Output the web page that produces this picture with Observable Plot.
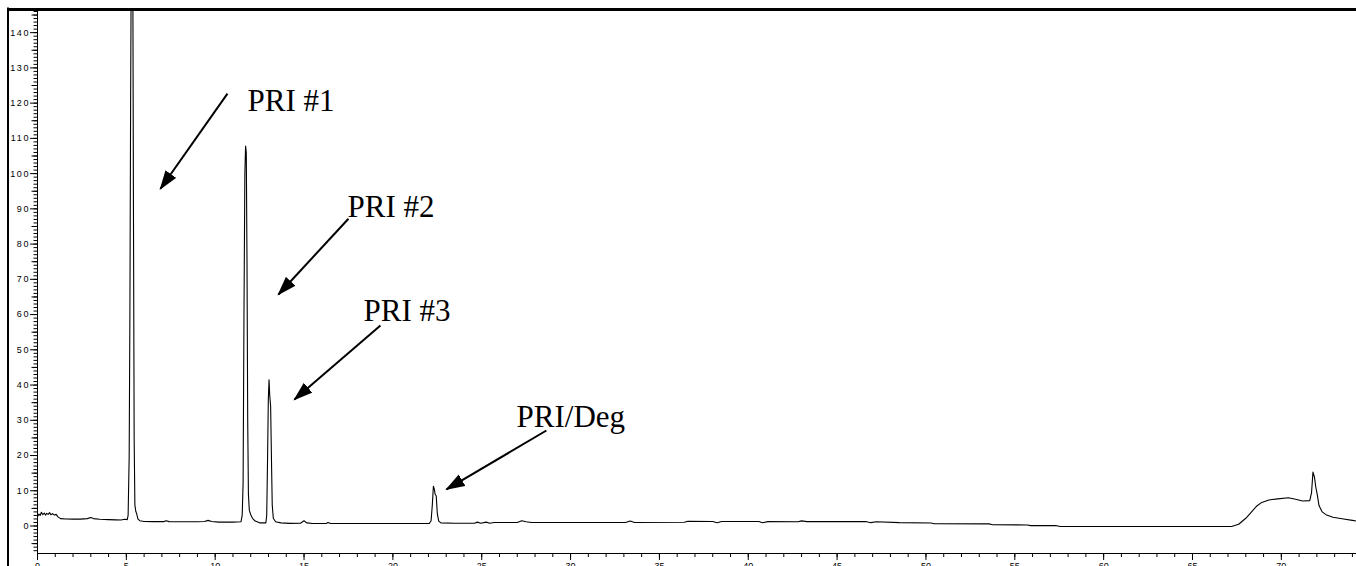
<!DOCTYPE html>
<html>
<head>
<meta charset="utf-8">
<script src="https://cdn.jsdelivr.net/npm/d3@7"></script>
<script src="https://cdn.jsdelivr.net/npm/@observablehq/plot@0.6"></script>
<style>
html, body { margin: 0; padding: 0; background: #fff; overflow: hidden; }
#chart svg g[aria-label="y-axis tick label"] text { letter-spacing: 1.6px; }
</style>
</head>
<body>
<div id="chart"></div>
<script>
// Retention time (min) and detector response
const retentionTime = [
  0.00, 0.08, 0.15, 0.22, 0.30, 0.38, 0.45, 0.52, 0.60, 0.68, 0.75, 0.85, 0.95, 1.05, 1.15, 1.30,
  1.60, 2.00, 2.40, 2.80, 3.00, 3.15, 3.50, 4.00, 4.40, 4.70, 4.90, 5.05,
  5.10, 5.16, 5.20, 5.24, 5.28, 5.36, 5.40, 5.44, 5.48, 5.53, 5.58, 5.65, 5.75,
  6.00, 6.50, 7.10, 7.25, 7.40, 8.00, 9.00, 9.40, 9.60, 9.80, 10.20, 11.00, 11.45,
  11.52, 11.57, 11.62, 11.67, 11.71, 11.75, 11.79, 11.83, 11.87, 11.92, 12.00, 12.10, 12.25, 12.50,
  12.85, 12.90, 12.95, 12.99, 13.03, 13.07, 13.12, 13.17, 13.21, 13.27, 13.40, 13.70,
  14.20, 14.80, 15.00, 15.15, 15.50, 16.25, 16.35, 16.50, 19.00,
  22.05, 22.15, 22.22, 22.28, 22.33, 22.38, 22.44, 22.50, 22.58, 22.70,
  23.50, 24.60, 24.75, 24.95, 25.25, 25.45, 25.70, 27.00, 27.25, 27.50, 27.80,
  33.10, 33.35, 33.60, 36.40, 36.60, 38.00, 38.25, 38.50, 40.60, 40.80, 41.10,
  42.80, 43.00, 43.30, 46.60, 46.90, 47.20, 48.50, 50.30, 50.45, 53.55, 53.75,
  55.70, 55.90, 57.35, 57.55, 67.20, 67.60, 68.00, 68.30, 68.60, 68.90, 69.30, 69.80,
  70.40, 70.80, 71.20, 71.60, 71.70, 71.78, 71.86, 71.94, 72.02, 72.12, 72.30, 72.55,
  72.90, 73.50, 74.00, 74.23
];
const response = [
  2.6, 3.4, 3.0, 3.9, 3.2, 3.7, 3.1, 3.6, 3.3, 3.8, 3.2, 3.5, 3.1, 3.3, 2.6, 2.1,
  2.0, 1.95, 1.95, 2.1, 2.4, 2.1, 1.9, 1.8, 1.75, 1.7, 1.9, 1.8,
  3.0, 20, 60, 120, 165, 165, 90, 25, 6, 4.2, 3.5, 2.0, 1.5,
  1.3, 1.25, 1.25, 1.5, 1.25, 1.2, 1.2, 1.3, 1.6, 1.3, 1.1, 1.1, 1.2,
  3.0, 12, 60, 100, 107.8, 106, 75, 30, 9, 4.5, 3.2, 2.2, 1.4, 0.9,
  0.9, 3.0, 20, 36, 41.5, 37, 34, 18, 6, 2.2, 1.2, 0.9,
  0.75, 0.8, 1.5, 0.9, 0.7, 0.7, 1.0, 0.7, 0.7,
  0.7, 1.5, 6, 11.3, 10.5, 9.0, 8.5, 3.5, 1.4, 0.9,
  0.8, 0.8, 1.1, 0.8, 1.1, 0.8, 1.0, 1.0, 1.5, 1.2, 1.0,
  1.0, 1.4, 1.0, 1.05, 1.35, 1.3, 0.95, 1.3, 1.3, 0.95, 1.25,
  1.2, 1.45, 1.25, 1.3, 0.95, 1.2, 0.95, 0.85, 0.65, 0.6, 0.35,
  0.3, 0.1, 0.1, -0.15, -0.15, 0.5, 2.2, 3.9, 5.6, 6.7, 7.4, 7.7,
  8.0, 7.6, 7.1, 7.2, 9.5, 15.3, 14.0, 11.0, 9.0, 5.8, 4.0, 3.1,
  2.5, 2.0, 1.6, 1.4
];

const xTicks = [0, 5, 10, 15, 20, 25, 30, 35, 40, 45, 50, 55, 60, 65, 70];
const yTicks = [0, 10, 20, 30, 40, 50, 60, 70, 80, 90, 100, 110, 120, 130, 140];
const xDomain = [0, 74.23];
const yDomain = [-7.8, 146.57];

// Peak annotations (data coordinates)
const peakLabels = ["PRI #1", "PRI #2", "PRI #3", "PRI/Deg"];
const labelTime = [11.82, 17.45, 18.35, 26.96];
const labelResponse = [120.7, 90.6, 61.1, 31.0];
const arrowFromTime = [10.69, 17.50, 19.30, 28.64];
const arrowFromResponse = [122.7, 87.2, 56.9, 27.1];
const arrowToTime = [6.92, 13.56, 14.46, 23.02];
const arrowToResponse = [95.7, 65.7, 35.9, 10.4];

const trace = retentionTime.map((t, i) => ({t, v: response[i]}));
const notes = peakLabels.map((label, i) => ({
  label, x: labelTime[i], y: labelResponse[i],
  x1: arrowFromTime[i], y1: arrowFromResponse[i], x2: arrowToTime[i], y2: arrowToResponse[i]
}));

function solidArrow(color) {
  const ns = "http://www.w3.org/2000/svg";
  const m = document.createElementNS(ns, "marker");
  m.setAttribute("viewBox", "-18 -7 20 14");
  m.setAttribute("markerWidth", 20);
  m.setAttribute("markerHeight", 14);
  m.setAttribute("markerUnits", "userSpaceOnUse");
  m.setAttribute("refX", 0);
  m.setAttribute("refY", 0);
  m.setAttribute("orient", "auto");
  const p = document.createElementNS(ns, "path");
  p.setAttribute("d", "M-18,-6.5L1.5,0L-18,6.5Z");
  p.setAttribute("fill", color);
  p.setAttribute("stroke", "none");
  m.appendChild(p);
  return m;
}

function build(marker) {
  return Plot.plot({
    width: 1356,
    height: 566,
    marginLeft: 37,
    marginRight: 0,
    marginTop: 9,
    marginBottom: 13,
    x: {domain: xDomain, label: null},
    y: {domain: yDomain, label: null},
    style: {background: "white", color: "black", fontFamily: "'Liberation Sans', Arial, sans-serif"},
    marks: [
      Plot.axisY({ticks: d3.range(-7, 147, 1), tickSize: 3.5, tickFormat: () => "", label: null, strokeWidth: 1}),
      Plot.axisY({ticks: d3.range(-5, 146, 10), tickSize: 5.5, tickFormat: () => "", label: null}),
      Plot.axisY({ticks: yTicks, tickSize: 7, tickPadding: 0.5, fontSize: 9, label: null, tickFormat: d => String(d)}),
      Plot.axisX({ticks: d3.range(0, 75, 1), tickSize: 4, tickFormat: () => "", label: null}),
      Plot.axisX({ticks: xTicks, tickSize: 7, tickPadding: 2, fontSize: 9, label: null, tickFormat: d => String(d)}),
      Plot.ruleX([0], {stroke: "black", strokeWidth: 1}),
      Plot.ruleY([yDomain[0]], {stroke: "black", strokeWidth: 1}),
      Plot.line(trace, {x: "t", y: "v", stroke: "black", strokeWidth: 1.1, clip: true}),
      Plot.ruleY([yDomain[1]], {stroke: "black", strokeWidth: 3, insetLeft: -30}),
      Plot.ruleX([0], {stroke: "black", strokeWidth: 2, dx: -29.5, insetTop: -1.5, insetBottom: -13}),
      Plot.link(notes, {x1: "x1", y1: "y1", x2: "x2", y2: "y2", stroke: "black", strokeWidth: 2, markerEnd: marker}),
      Plot.text(notes, {x: "x", y: "y", text: "label", textAnchor: "start", fontSize: 31,
        fontFamily: "'Liberation Serif', 'Times New Roman', serif", fill: "black"})
    ]
  });
}

let chart;
try { chart = build(solidArrow); } catch (e) { chart = build("arrow"); }
document.getElementById("chart").appendChild(chart);
</script>
</body>
</html>
